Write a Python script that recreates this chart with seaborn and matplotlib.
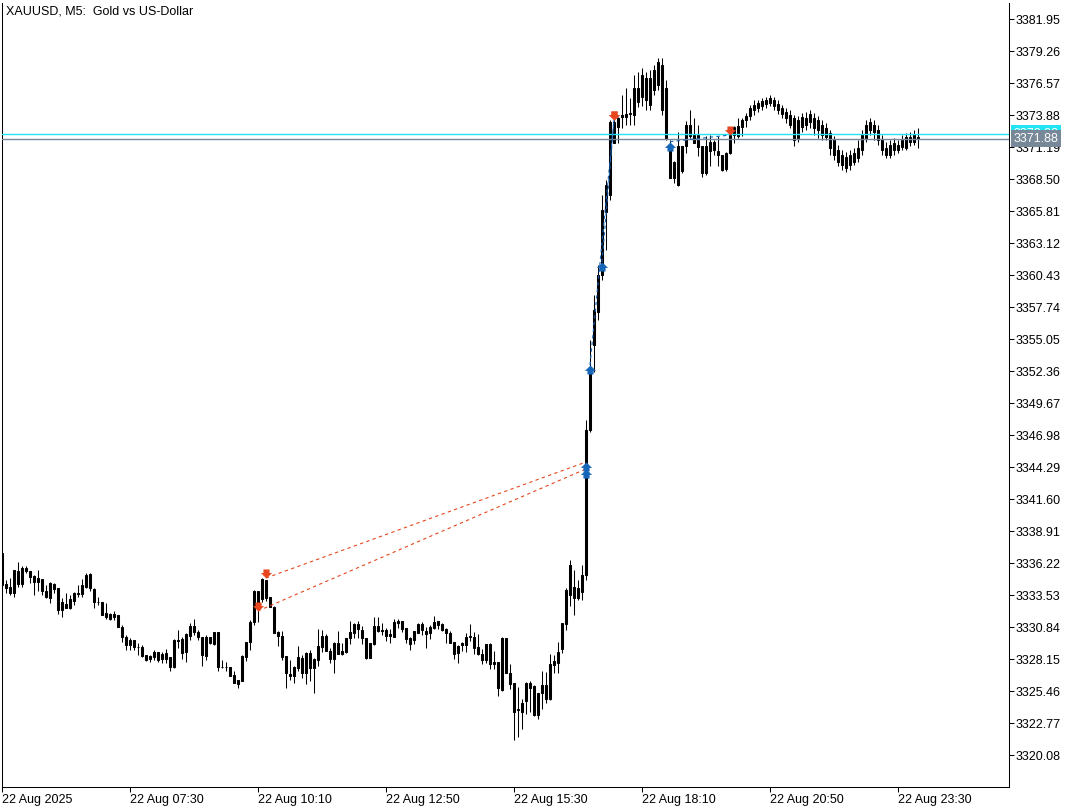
import numpy as np
import matplotlib
matplotlib.use("Agg")
import matplotlib.pyplot as plt
import matplotlib.transforms as mtransforms
from matplotlib.path import Path
import seaborn as sns

sns.set_theme(style="white")
plt.rcParams["font.family"] = ["Liberation Sans", "DejaVu Sans"]

# XAUUSD M5 candles, 22 Aug 2025
opens = [
    3337.07, 3334.46, 3334.24, 3333.68, 3335.56, 3334.44, 3335.84, 3335.56, 3335.14, 3334.66,
    3334.86, 3333.90, 3333.32, 3334.46, 3334.10, 3332.28, 3332.78, 3332.42, 3333.04, 3333.60,
    3333.60, 3334.24, 3335.30, 3334.07, 3332.98, 3332.95, 3331.66, 3331.94, 3331.72, 3331.86,
    3330.88, 3330.04, 3329.34, 3329.76, 3329.14, 3329.20, 3328.50, 3328.16, 3328.36, 3328.72,
    3328.14, 3328.64, 3328.28, 3327.46, 3329.76, 3329.82, 3328.72, 3330.12, 3330.94, 3330.46,
    3329.96, 3328.44, 3330.04, 3329.42, 3330.40, 3327.44, 3327.52, 3327.52, 3326.82, 3326.06,
    3326.34, 3328.36, 3329.54, 3331.24, 3333.90, 3333.18, 3334.80, 3333.40, 3332.55, 3330.45,
    3330.08, 3328.40, 3326.89, 3326.72, 3327.37, 3328.26, 3327.00, 3328.68, 3327.37, 3328.07,
    3329.19, 3330.08, 3328.82, 3328.15, 3329.52, 3328.54, 3328.74, 3329.94, 3330.36, 3331.09,
    3330.59, 3329.89, 3328.26, 3329.41, 3330.92, 3330.50, 3330.59, 3330.11, 3330.03, 3331.15,
    3331.34, 3330.73, 3329.94, 3329.75, 3330.36, 3331.06, 3330.53, 3330.31, 3330.73, 3331.01,
    3331.09, 3330.64, 3330.31, 3329.55, 3328.63, 3329.33, 3329.33, 3329.97, 3330.03, 3329.19,
    3328.57, 3328.07, 3329.41, 3327.70, 3327.93, 3325.54, 3329.94, 3327.00, 3326.10, 3323.86,
    3323.72, 3324.65, 3326.10, 3325.88, 3323.44, 3325.26, 3325.96, 3324.76, 3327.65, 3327.84,
    3328.99, 3331.06, 3333.53, 3334.21, 3333.28, 3333.79, 3335.22, 3347.40, 3354.55, 3357.32,
    3360.43, 3365.73, 3367.16, 3373.32, 3372.85, 3373.74, 3373.74, 3373.97, 3373.88, 3376.15,
    3375.40, 3376.99, 3374.72, 3375.98, 3376.40, 3378.09, 3376.15, 3371.12, 3368.59, 3371.26,
    3369.16, 3371.26, 3373.08, 3372.18, 3371.20, 3371.26, 3369.02, 3371.59, 3370.98, 3370.89,
    3370.56, 3369.38, 3370.70, 3372.24, 3372.10, 3372.88, 3373.44, 3373.80, 3374.30, 3374.47,
    3374.64, 3374.81, 3374.89, 3375.14, 3374.81, 3374.47, 3374.14, 3373.88, 3373.63, 3371.95,
    3372.87, 3373.63, 3373.29, 3373.63, 3372.62, 3373.04, 3372.79, 3372.37, 3371.78, 3370.94,
    3369.68, 3370.35, 3369.68, 3370.69, 3370.27, 3370.94, 3371.95, 3372.62, 3373.04, 3372.62,
    3371.78, 3371.11, 3370.52, 3371.53, 3370.94, 3371.19, 3371.11, 3372.03, 3371.61, 3372.03,
]
highs = [
    3337.07, 3334.80, 3334.94, 3335.64, 3336.28, 3335.98, 3336.00, 3335.56, 3335.22, 3335.64,
    3334.86, 3334.38, 3334.60, 3334.52, 3334.10, 3333.32, 3333.68, 3333.54, 3333.82, 3334.38,
    3334.86, 3335.36, 3335.42, 3334.13, 3333.40, 3332.95, 3332.84, 3332.06, 3332.20, 3331.86,
    3331.02, 3330.18, 3329.90, 3329.76, 3329.48, 3329.34, 3328.50, 3328.50, 3328.92, 3328.72,
    3328.78, 3329.00, 3328.28, 3329.84, 3330.60, 3330.04, 3330.32, 3331.16, 3331.52, 3330.60,
    3329.96, 3330.18, 3330.04, 3330.40, 3330.40, 3328.08, 3327.94, 3327.52, 3327.10, 3326.40,
    3328.50, 3329.54, 3331.44, 3333.96, 3333.90, 3334.94, 3334.80, 3333.40, 3332.60, 3330.53,
    3330.50, 3328.40, 3328.07, 3327.56, 3329.24, 3328.49, 3328.77, 3328.91, 3328.21, 3330.67,
    3330.59, 3330.25, 3329.10, 3329.61, 3330.50, 3329.47, 3329.94, 3331.34, 3331.20, 3331.37,
    3330.92, 3329.89, 3329.52, 3331.71, 3331.65, 3331.20, 3330.73, 3330.64, 3331.48, 3331.51,
    3331.34, 3330.78, 3330.03, 3330.50, 3331.20, 3331.23, 3330.87, 3331.01, 3331.76, 3331.34,
    3331.20, 3330.78, 3330.50, 3329.55, 3329.33, 3329.55, 3330.36, 3331.09, 3330.45, 3330.22,
    3328.99, 3329.41, 3329.47, 3328.82, 3327.93, 3329.97, 3329.94, 3327.73, 3326.16, 3325.82,
    3324.79, 3326.24, 3326.30, 3325.96, 3325.32, 3327.14, 3327.09, 3328.57, 3328.49, 3329.61,
    3331.20, 3334.12, 3336.48, 3335.64, 3334.79, 3336.06, 3348.25, 3354.97, 3358.75, 3361.27,
    3367.16, 3368.42, 3373.46, 3374.03, 3373.74, 3375.56, 3376.15, 3375.29, 3377.25, 3377.50,
    3377.83, 3377.50, 3377.67, 3378.09, 3378.67, 3378.67, 3376.83, 3371.82, 3370.05, 3372.43,
    3371.31, 3373.36, 3374.34, 3373.64, 3373.08, 3371.26, 3372.10, 3372.24, 3371.82, 3372.10,
    3370.56, 3370.75, 3372.80, 3372.99, 3373.64, 3373.64, 3374.06, 3374.72, 3375.14, 3375.14,
    3375.31, 3375.40, 3375.56, 3375.40, 3375.14, 3374.72, 3374.47, 3374.30, 3373.88, 3373.80,
    3374.05, 3374.14, 3374.30, 3374.05, 3373.80, 3373.46, 3373.21, 3372.62, 3372.12, 3371.36,
    3370.94, 3370.77, 3370.94, 3371.11, 3371.78, 3372.62, 3373.46, 3373.63, 3373.46, 3373.04,
    3372.20, 3371.61, 3371.78, 3371.95, 3371.78, 3372.20, 3372.37, 3372.45, 3372.62, 3372.79,
]
lows = [
    3333.95, 3333.74, 3333.54, 3333.34, 3334.24, 3334.24, 3335.36, 3334.52, 3333.54, 3333.90,
    3333.54, 3333.26, 3332.84, 3333.68, 3331.94, 3331.72, 3332.42, 3332.36, 3332.70, 3333.40,
    3333.40, 3334.10, 3333.88, 3332.42, 3332.70, 3331.86, 3331.50, 3331.44, 3331.44, 3330.82,
    3329.62, 3328.92, 3328.92, 3328.92, 3328.50, 3328.36, 3328.02, 3327.94, 3328.08, 3327.94,
    3327.80, 3327.80, 3327.18, 3327.38, 3329.06, 3328.14, 3327.94, 3329.76, 3330.18, 3329.76,
    3327.60, 3328.08, 3329.42, 3329.34, 3327.10, 3327.38, 3327.10, 3326.68, 3326.12, 3325.70,
    3326.34, 3328.02, 3328.92, 3330.99, 3331.30, 3332.98, 3333.06, 3332.56, 3330.36, 3329.24,
    3328.07, 3325.74, 3326.38, 3326.16, 3327.14, 3326.58, 3326.02, 3326.33, 3325.32, 3327.59,
    3328.77, 3328.82, 3327.84, 3327.00, 3328.54, 3328.49, 3328.68, 3329.38, 3329.89, 3329.89,
    3329.38, 3328.15, 3328.21, 3329.33, 3330.45, 3330.17, 3329.66, 3329.47, 3330.03, 3330.78,
    3330.39, 3329.47, 3328.91, 3329.38, 3330.31, 3330.17, 3329.10, 3329.83, 3330.64, 3330.64,
    3330.50, 3329.47, 3329.47, 3328.12, 3327.79, 3328.85, 3328.71, 3329.69, 3328.54, 3328.49,
    3327.70, 3327.79, 3327.28, 3327.31, 3325.04, 3325.49, 3327.00, 3325.63, 3321.34, 3321.62,
    3322.27, 3323.53, 3323.72, 3323.39, 3323.11, 3323.95, 3324.42, 3324.70, 3327.00, 3326.95,
    3328.68, 3330.59, 3332.61, 3331.85, 3333.11, 3333.11, 3334.79, 3347.24, 3352.28, 3356.65,
    3360.01, 3362.53, 3366.74, 3371.50, 3371.50, 3372.76, 3373.04, 3373.04, 3373.04, 3374.56,
    3374.64, 3374.30, 3374.30, 3375.56, 3375.98, 3373.88, 3371.80, 3368.59, 3368.17, 3367.89,
    3369.02, 3370.70, 3371.96, 3371.54, 3370.42, 3368.68, 3368.87, 3369.58, 3370.56, 3369.58,
    3369.16, 3369.16, 3370.64, 3371.54, 3371.96, 3372.10, 3372.88, 3373.46, 3373.88, 3374.14,
    3374.30, 3374.47, 3374.64, 3374.30, 3373.97, 3373.63, 3373.21, 3372.79, 3371.28, 3371.61,
    3372.45, 3372.62, 3372.79, 3372.20, 3371.95, 3371.78, 3371.78, 3370.52, 3370.10, 3369.60,
    3369.26, 3369.09, 3369.26, 3369.68, 3369.93, 3370.52, 3371.61, 3372.20, 3371.78, 3371.36,
    3370.52, 3370.27, 3370.27, 3370.52, 3370.69, 3370.94, 3370.94, 3371.28, 3371.36, 3371.11,
]
closes = [
    3334.40, 3334.10, 3333.74, 3335.64, 3334.44, 3335.84, 3335.58, 3335.08, 3334.66, 3334.94,
    3333.90, 3333.40, 3334.52, 3334.04, 3332.28, 3332.92, 3332.42, 3333.20, 3333.74, 3333.74,
    3334.38, 3335.22, 3334.10, 3332.98, 3332.92, 3331.86, 3332.06, 3331.52, 3331.94, 3330.88,
    3329.98, 3329.34, 3329.76, 3329.14, 3329.20, 3328.44, 3328.08, 3328.44, 3328.70, 3328.08,
    3328.58, 3328.16, 3327.52, 3329.76, 3329.70, 3328.64, 3330.24, 3330.96, 3330.46, 3330.04,
    3328.50, 3330.04, 3329.48, 3330.40, 3327.44, 3327.52, 3327.46, 3326.76, 3326.12, 3326.40,
    3328.44, 3329.54, 3331.30, 3333.90, 3332.70, 3334.86, 3333.26, 3332.56, 3330.36, 3330.11,
    3328.35, 3326.95, 3326.72, 3327.51, 3328.35, 3327.00, 3328.68, 3327.42, 3328.15, 3329.24,
    3330.08, 3328.82, 3328.15, 3329.52, 3328.54, 3328.82, 3329.89, 3330.39, 3331.09, 3330.64,
    3329.94, 3328.21, 3329.52, 3330.92, 3330.50, 3330.59, 3330.11, 3330.25, 3331.29, 3331.34,
    3330.67, 3329.80, 3329.38, 3330.50, 3331.09, 3330.59, 3330.28, 3330.87, 3331.23, 3331.34,
    3330.56, 3330.36, 3329.52, 3328.57, 3329.27, 3329.47, 3329.97, 3330.08, 3329.10, 3328.54,
    3328.07, 3329.41, 3327.70, 3327.93, 3325.68, 3329.94, 3327.00, 3326.02, 3323.72, 3323.92,
    3324.48, 3326.10, 3325.74, 3323.44, 3325.32, 3325.96, 3324.79, 3327.73, 3327.98, 3328.77,
    3331.20, 3333.95, 3336.06, 3333.28, 3334.12, 3335.22, 3347.40, 3352.45, 3357.49, 3360.43,
    3365.90, 3368.00, 3373.29, 3371.50, 3373.61, 3373.88, 3373.97, 3374.03, 3376.15, 3374.98,
    3377.25, 3375.14, 3376.99, 3377.67, 3378.34, 3374.30, 3371.92, 3368.59, 3369.91, 3368.03,
    3371.26, 3373.08, 3372.10, 3371.54, 3372.18, 3369.02, 3371.26, 3370.84, 3371.59, 3370.50,
    3369.30, 3370.70, 3372.24, 3372.88, 3372.94, 3373.50, 3373.78, 3374.47, 3374.72, 3374.89,
    3375.06, 3375.14, 3375.31, 3374.64, 3374.30, 3373.97, 3373.63, 3373.04, 3371.78, 3373.46,
    3373.72, 3373.04, 3373.97, 3372.79, 3373.46, 3372.20, 3372.03, 3371.11, 3370.52, 3369.93,
    3370.52, 3369.43, 3370.52, 3369.93, 3371.11, 3372.20, 3373.04, 3373.29, 3372.45, 3371.78,
    3370.94, 3370.52, 3371.36, 3370.94, 3371.36, 3371.78, 3372.03, 3371.61, 3372.20, 3371.88,
]

# trade history: sells (red), buys (blue) -- bar index and price
sell_open_bars = [66, 64]
sell_open_prices = [3334.96, 3332.19]
sell_close_bars = [146, 146]
sell_close_prices = [3344.71, 3344.13]
buy_open_bars = [147, 150, 167]
buy_open_prices = [3352.87, 3361.52, 3371.64]
buy_close_bars = [153, 153, 182]
buy_close_prices = [3373.46, 3373.46, 3372.20]

bid_price = 3371.88
ask_price = 3372.32

price_ticks = [3381.95, 3379.26, 3376.57, 3373.88, 3371.19, 3368.50, 3365.81, 3363.12,
               3360.43, 3357.74, 3355.05, 3352.36, 3349.67, 3346.98, 3344.29, 3341.60,
               3338.91, 3336.22, 3333.53, 3330.84, 3328.15, 3325.46, 3322.77, 3320.08]
time_tick_bars = [0, 32, 64, 96, 128, 160, 192, 224]
time_labels = ["22 Aug 2025", "22 Aug 07:30", "22 Aug 10:10", "22 Aug 12:50",
               "22 Aug 15:30", "22 Aug 18:10", "22 Aug 20:50", "22 Aug 23:30"]

SELL_RED = "#E8461E"
BUY_BLUE = "#1565B8"
ASK_CYAN = "#22E4F2"
BID_GRAY = "#778899"

W, H = 1079, 811
fig = plt.figure(figsize=(W / 100, H / 100), dpi=100)
fig.patch.set_facecolor("white")
ax = fig.add_axes([2 / W, 1 - 787 / H, (1009 - 2) / W, (787 - 3) / H])
ax.set_facecolor("white")

o = np.array(opens)
c = np.array(closes)
x = np.arange(len(c))

# candles: wicks + filled bodies
ax.vlines(x, lows, highs, color="black", linewidth=0.75, zorder=2)
ax.bar(x, np.abs(c - o), bottom=np.minimum(o, c), width=0.55,
       color="black", edgecolor="black", linewidth=0.75, zorder=3)

# bid / ask lines
ax.axhline(ask_price, color=ASK_CYAN, linewidth=1.0, zorder=4)
ax.axhline(bid_price, color=BID_GRAY, linewidth=1.0, zorder=4)

# trade lines
dash = (0, (3, 3))
for b0, p0, b1, p1 in zip(sell_open_bars, sell_open_prices, sell_close_bars, sell_close_prices):
    ax.plot([b0, b1], [p0, p1], color=SELL_RED, linewidth=0.8, linestyle=dash, zorder=5)
for b0, p0, b1, p1 in zip(buy_open_bars, buy_open_prices, buy_close_bars, buy_close_prices):
    ax.plot([b0, b1], [p0, p1], color=BUY_BLUE, linewidth=0.8, linestyle=dash, zorder=5)

# trade arrows (tip sits on the price)
down_arrow = Path([(-0.34, 1.0), (0.34, 1.0), (0.34, 0.6), (0.62, 0.6), (0.0, 0.0),
                   (-0.62, 0.6), (-0.34, 0.6), (-0.34, 1.0)], closed=True)
up_arrow = Path([(-0.34, -1.0), (0.34, -1.0), (0.34, -0.6), (0.62, -0.6), (0.0, 0.0),
                 (-0.62, -0.6), (-0.34, -0.6), (-0.34, -1.0)], closed=True)
msize = 13
ax.plot(sell_open_bars, sell_open_prices, linestyle="none", marker=down_arrow,
        markersize=msize, color=SELL_RED, markeredgewidth=0, zorder=6)
ax.plot(buy_close_bars, buy_close_prices, linestyle="none", marker=down_arrow,
        markersize=msize, color=SELL_RED, markeredgewidth=0, zorder=6)
ax.plot(sell_close_bars, sell_close_prices, linestyle="none", marker=up_arrow,
        markersize=msize, color=BUY_BLUE, markeredgewidth=0, zorder=6)
ax.plot(buy_open_bars, buy_open_prices, linestyle="none", marker=up_arrow,
        markersize=msize, color=BUY_BLUE, markeredgewidth=0, zorder=6)

ax.set_xlim(0, 251.75)
ax.set_ylim(3317.39, 3383.30)

# axes frame and ticks, MT5 style
for side in ["left", "bottom", "right", "top"]:
    ax.spines[side].set_color("black")
    ax.spines[side].set_linewidth(0.75)
ax.spines["top"].set_visible(False)

ax.yaxis.tick_right()
ax.set_yticks(price_ticks)
ax.set_yticklabels([f"{p:.2f}" for p in price_ticks])
ax.set_xticks(time_tick_bars)
ax.set_xticklabels(time_labels)
for lbl in ax.get_xticklabels():
    lbl.set_horizontalalignment("left")
ax.tick_params(axis="both", direction="out", length=3.5, width=0.75, color="black",
               labelsize=9, labelcolor="black", pad=1.5)
ax.tick_params(axis="y", left=False, right=True)
ax.tick_params(axis="x", bottom=True, top=False)
ax.grid(False)

# price boxes on the right scale (bid box sits on top of the ask box)
trans = mtransforms.blended_transform_factory(ax.transAxes, ax.transData)
trans = mtransforms.offset_copy(trans, fig=fig, x=3.5, y=0, units="points")
ax.text(1.0, ask_price, f"{ask_price:.2f}", transform=trans, fontsize=9, color="white",
        ha="left", va="center", clip_on=False, zorder=7,
        bbox=dict(boxstyle="square,pad=0.2", fc=ASK_CYAN, ec="none"))
ax.text(1.0, bid_price, f"{bid_price:.2f}", transform=trans, fontsize=9, color="white",
        ha="left", va="center", clip_on=False, zorder=8,
        bbox=dict(boxstyle="square,pad=0.2", fc=BID_GRAY, ec="none"))

fig.text(6 / W, 1 - 12 / H, "XAUUSD, M5:  Gold vs US-Dollar", fontsize=9,
         ha="left", va="center", color="black")

fig.savefig("out.png", dpi=100, facecolor="white")
